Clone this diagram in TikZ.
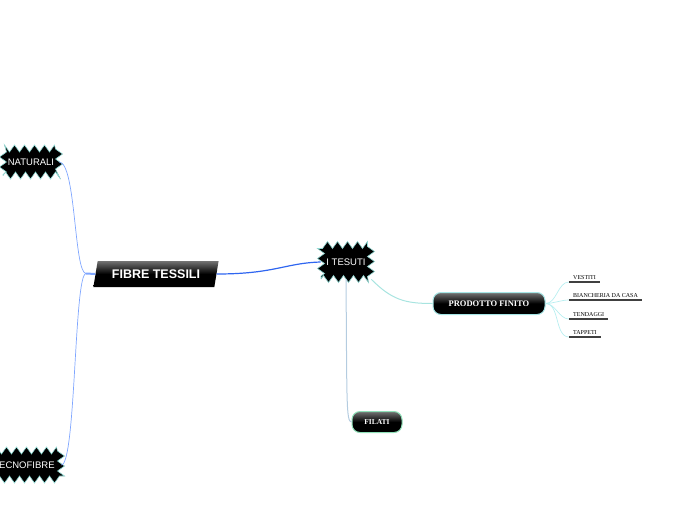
\documentclass[tikz,border=0pt]{standalone}
\usepackage{fontspec}
\setmainfont{Liberation Serif}
\setsansfont{Liberation Sans}
\usetikzlibrary{shapes.geometric,decorations.pathmorphing}
\definecolor{burstline}{HTML}{8FD8D2}
\definecolor{lblue}{HTML}{7FA6FF}
\definecolor{mblue}{HTML}{2F66F0}
\definecolor{teal1}{HTML}{A8E4E0}
\definecolor{greyblue}{HTML}{B4CCE0}
\definecolor{leafc}{HTML}{B8EEF0}
\definecolor{pfborder}{HTML}{A6E6E6}
\definecolor{filborder}{HTML}{8FE0B8}
\tikzset{
  burst/.style={fill=black, draw=burstline, line width=0.6pt, decorate,
    decoration={zigzag, segment length=10pt, amplitude=3.5pt},
    text=white, font=\sffamily\fontsize{9.5}{11}\selectfont, inner sep=0pt},
  central/.style={trapezium, trapezium left angle=70, trapezium right angle=110,
    trapezium stretches=true, minimum width=126pt, minimum height=26pt, inner sep=0pt,
    top color=black!55, bottom color=black, middle color=black,
    text=white, font=\sffamily\bfseries\fontsize{12.5}{14}\selectfont},
  pill/.style={rounded corners=8pt, top color=black!55, bottom color=black, middle color=black,
    draw=pfborder, line width=1pt, text=white, inner sep=0pt},
  leaf/.style={anchor=south west, inner xsep=4pt, inner ysep=2.5pt, font=\fontsize{6}{7}\selectfont},
  uline/.style={line width=1.2pt, black!75},
  conn/.style={line width=0.7pt},
}
\begin{document}
\begin{tikzpicture}[x=1pt,y=-1pt]
\useasboundingbox (0,0) rectangle (696,520);
% nodes
\node[central] (ft) at (156,274) {FIBRE TESSILI};
\node[burst, minimum width=56pt, minimum height=27pt] (nat) at (31,162) {NATURALI};
\node[burst, minimum width=74pt, minimum height=29pt] (tec) at (24,465) {TECNOFIBRE};
\node[burst, minimum width=50pt, minimum height=34pt] (it) at (346,262) {I TESUTI};
\node[pill, minimum width=112pt, minimum height=22pt, font=\bfseries\fontsize{8.5}{10}\selectfont] (pf) at (489,303.5) {PRODOTTO FINITO};
\node[pill, draw=filborder, minimum width=50pt, minimum height=21pt, font=\bfseries\fontsize{7.5}{9}\selectfont] (fil) at (377,422) {FILATI};
\node[leaf] (l1) at (569,282) {VESTITI};
\node[leaf] (l2) at (569,300) {BIANCHERIA DA CASA};
\node[leaf] (l3) at (569,319) {TENDAGGI};
\node[leaf] (l4) at (569,337) {TAPPETI};
\coordinate (j) at (86,273.5);
% connectors
\draw[lblue, line width=2pt] (ft.west) -- (j);
\draw[lblue, conn] (j) .. controls (74,273) and (76,163) .. (nat.east);
\draw[lblue, conn] (j) .. controls (74,274) and (76,465) .. (tec.east);
\draw[mblue, line width=1.2pt] (ft.east) .. controls (275,274) and (285,263) .. (it.west);
\draw[teal1, line width=1pt] (it.south east) .. controls (392,300) and (405,303.5) .. (pf.west);
\draw[greyblue, line width=1pt] (it.south) .. controls (347,400) and (346,422) .. (fil.west);
\foreach \l in {l1,l2,l3,l4}{
  \draw[leafc, conn] (pf.east) to[out=0, in=180, looseness=0.9] (\l.south west);
}
\foreach \l in {l1,l2,l3,l4}{
  \draw[uline] (\l.south west) -- (\l.south east);
}
\end{tikzpicture}
\end{document}
